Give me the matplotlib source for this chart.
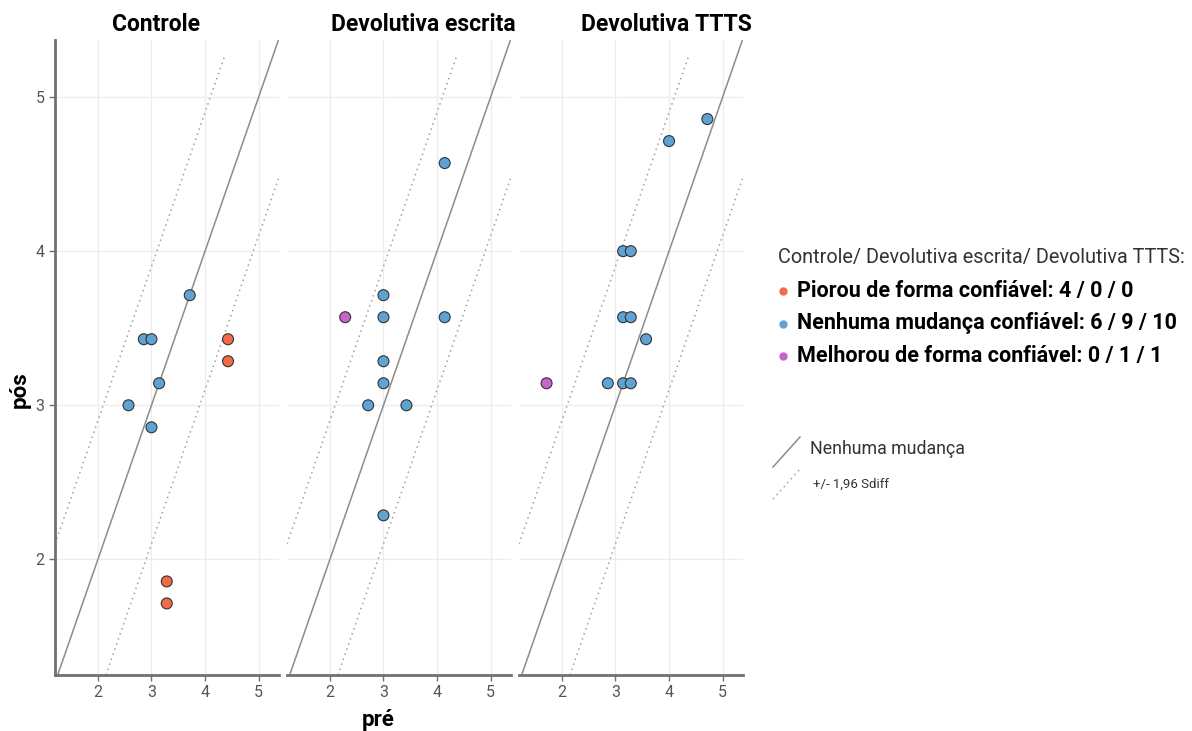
import matplotlib.pyplot as plt
from matplotlib.lines import Line2D
import numpy as np

plt.rcParams['font.family'] = ['Roboto', 'DejaVu Sans']

# pre / post scores per group (means of 7-item scale)
ctrl_pre = [26/7, 20/7, 3.0, 22/7, 18/7, 3.0, 31/7, 31/7, 23/7, 23/7]
ctrl_pos = [26/7, 24/7, 24/7, 22/7, 3.0, 20/7, 24/7, 23/7, 13/7, 12/7]
ctrl_cls = ['n', 'n', 'n', 'n', 'n', 'n', 'p', 'p', 'p', 'p']

escr_pre = [29/7, 16/7, 3.0, 3.0, 29/7, 3.0, 3.0, 19/7, 24/7, 3.0]
escr_pos = [32/7, 25/7, 26/7, 25/7, 25/7, 23/7, 22/7, 3.0, 3.0, 16/7]
escr_cls = ['n', 'm', 'n', 'n', 'n', 'n', 'n', 'n', 'n', 'n']

ttts_pre = [33/7, 4.0, 22/7, 23/7, 22/7, 23/7, 25/7, 20/7, 22/7, 23/7, 12/7]
ttts_pos = [34/7, 33/7, 4.0, 4.0, 25/7, 25/7, 24/7, 22/7, 22/7, 22/7, 22/7]
ttts_cls = ['n', 'n', 'n', 'n', 'n', 'n', 'n', 'n', 'n', 'n', 'm']

groups = ['Controle', 'Devolutiva escrita', 'Devolutiva TTTS']
sdiff = 0.9  # 1.96 * Sdiff band half-width

colors = {'p': '#F26A47', 'n': '#5EA3D3', 'm': '#C862CC'}
legend_labels = ['Piorou de forma confiável: 4 / 0 / 0',
                 'Nenhuma mudança confiável: 6 / 9 / 10',
                 'Melhorou de forma confiável: 0 / 1 / 1']

W, H = 1192, 731
fig = plt.figure(figsize=(W / 100, H / 100), dpi=100)


def px_axes(l, r, t, b):
    return fig.add_axes([l / W, 1 - b / H, (r - l) / W, (b - t) / H])


data = [(ctrl_pre, ctrl_pos, ctrl_cls),
        (escr_pre, escr_pos, escr_cls),
        (ttts_pre, ttts_pos, ttts_cls)]
lefts = [55, 287, 519]
title_pos = [0.45, 0.61, 0.66]

for i, (pre, pos, cls) in enumerate(data):
    ax = px_axes(lefts[i], lefts[i] + 224, 40, 675)
    ax.set_xlim(1.2, 5.38)
    ax.set_ylim(1.25, 5.37)
    ax.set_xticks([2, 3, 4, 5])
    ax.set_yticks([2, 3, 4, 5])
    ax.grid(color='#EDEDED', lw=0.9)
    ax.set_axisbelow(True)
    for s in ['top', 'right']:
        ax.spines[s].set_visible(False)
    ax.spines['bottom'].set_color('#707070')
    ax.spines['bottom'].set_linewidth(2)
    ax.spines['left'].set_color('#707070')
    ax.spines['left'].set_linewidth(2)
    ax.tick_params(colors='#707070', labelcolor='#555555', labelsize=11.5,
                   length=4, width=1)
    if i > 0:
        ax.spines['left'].set_visible(False)
        ax.tick_params(axis='y', left=False, labelleft=False)

    # no-change line and reliable change limits
    xs = np.array([1.0, 5.6])
    ax.plot(xs, xs, color='#8C8C8C', lw=1.1, zorder=2)
    xu = np.array([1.2, 4.37])
    ax.plot(xu, xu + sdiff, color='#A0A0A0', lw=1.1, ls=(0, (1, 2.5)), zorder=2)
    xl = np.array([2.15, 5.37])
    ax.plot(xl, xl - sdiff, color='#A0A0A0', lw=1.1, ls=(0, (1, 2.5)), zorder=2)

    ax.scatter(pre, pos, s=62, c=[colors[c] for c in cls],
               edgecolors='#333333', linewidths=0.8, zorder=3)

    ax.text(title_pos[i], 1.006, groups[i], transform=ax.transAxes,
            ha='center', va='bottom', fontsize=16.5, fontweight='bold')

fig.text(20 / W, 1 - 390 / H, 'pós', rotation=90, ha='center', va='center',
         fontsize=16, fontweight='bold')
fig.text(378 / W, 1 - 720 / H, 'pré', ha='center', va='center',
         fontsize=16, fontweight='bold')

# legend
fig.text(778 / W, 1 - 257 / H, 'Controle/ Devolutiva escrita/ Devolutiva TTTS:',
         ha='left', va='center', fontsize=14.3, color='#333333')
for k, (key, lab) in enumerate(zip(['p', 'n', 'm'], legend_labels)):
    yy = 1 - (291 + 32.5 * k) / H
    fig.add_artist(Line2D([783 / W], [yy], marker='o', ms=5, color=colors[key],
                          ls='none', transform=fig.transFigure))
    fig.text(797 / W, yy, lab, ha='left', va='center', fontsize=15.5,
             fontweight='bold')

fig.add_artist(Line2D([773 / W, 800 / W], [1 - 467 / H, 1 - 437 / H],
                      color='#8C8C8C', lw=1.1, transform=fig.transFigure))
fig.text(810 / W, 1 - 449 / H, 'Nenhuma mudança', ha='left', va='center',
         fontsize=12.8, color='#333333')
fig.add_artist(Line2D([773 / W, 800 / W], [1 - 499 / H, 1 - 469 / H],
                      color='#A0A0A0', lw=1.1, ls=(0, (1, 2.5)),
                      transform=fig.transFigure))
fig.text(813 / W, 1 - 484 / H, '+/- 1,96 Sdiff', ha='left', va='center',
         fontsize=9.5, color='#333333')

fig.savefig('out.png', dpi=100)
